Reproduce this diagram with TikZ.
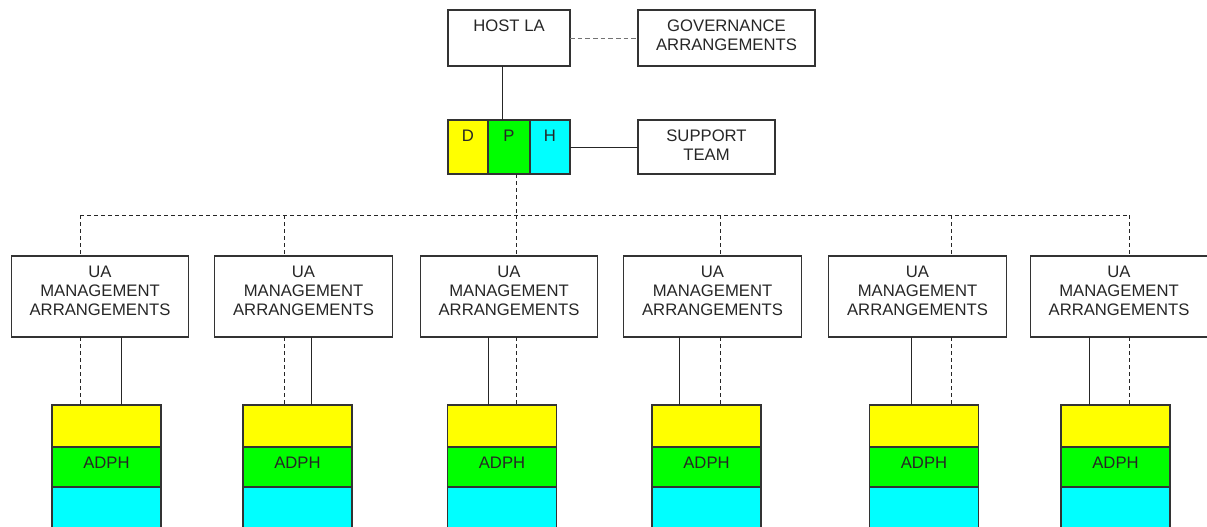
\documentclass[tikz,border=0pt]{standalone}
\usepackage{fontspec}
\setmainfont{Liberation Sans}
\usetikzlibrary{positioning}
\definecolor{dphyellow}{HTML}{FFFF00}
\definecolor{dphgreen}{HTML}{00FF00}
\definecolor{dphcyan}{HTML}{00FFFF}

\begin{document}
\begin{tikzpicture}[
    x=0.75pt, y=-0.75pt,
    box/.style={rectangle, draw=black!80, line width=0.9pt, inner sep=0pt, outer sep=0pt},
    txt/.style={anchor=north, inner sep=7.5pt, align=center, font=\fontsize{12.5}{14.25}\selectfont, text=black!85},
    caption/.style={label={[txt]north:{#1}}},
    ua/.style={box, minimum width=133pt, minimum height=60.75pt, caption={UA\\MANAGEMENT\\ARRANGEMENTS}},
    ylayer/.style={box, fill=dphyellow, minimum width=81.75pt, minimum height=31.5pt},
    glayer/.style={box, fill=dphgreen, minimum width=81.75pt, minimum height=30pt, caption=ADPH},
    clayer/.style={box, fill=dphcyan, minimum width=81.75pt, minimum height=33.75pt},
    link/.style={draw=black!85, line width=0.75pt},
    dlink/.style={link, dash pattern=on 3pt off 2.25pt},
    glink/.style={draw=black!55, line width=0.75pt, dash pattern=on 3.5pt off 2.25pt}
]
    \useasboundingbox (0,0) rectangle (1207,526);
    \clip (0,0) rectangle (1207,526);

    \node[box, minimum width=91.5pt, minimum height=42pt, caption={HOST LA}] (host) at (509,38) {};
    \node[box, minimum width=132.75pt, minimum height=42pt, caption={GOVERNANCE\\ARRANGEMENTS}] (gov) at (726.5,38) {};

    \node[box, fill=dphyellow, minimum width=30pt, minimum height=40.5pt, caption=D] (dphD) at (468,147) {};
    \node[box, fill=dphgreen, minimum width=31.5pt, minimum height=40.5pt, caption=P] (dphP) at (509,147) {};
    \node[box, fill=dphcyan, minimum width=30pt, minimum height=40.5pt, caption=H] (dphH) at (550,147) {};
    \node[box, minimum width=102.75pt, minimum height=40.5pt, caption={SUPPORT\\TEAM}] (sup) at (706.5,147) {};

    \node[ua] (ua1) at (100,296.5) {};
    \node[ua] (ua2) at (303.5,296.5) {};
    \node[ua] (ua3) at (509,296.5) {};
    \node[ua] (ua4) at (712.5,296.5) {};
    \node[ua] (ua5) at (917.5,296.5) {};
    \node[ua] (ua6) at (1119,296.5) {};

    \node[ylayer] (yel1) at (106.5,426) {};
    \node[ylayer] (yel2) at (297.5,426) {};
    \node[ylayer] (yel3) at (502,426) {};
    \node[ylayer] (yel4) at (706.5,426) {};
    \node[ylayer] (yel5) at (924,426) {};
    \node[ylayer] (yel6) at (1115.5,426) {};

    \node[glayer, below=0pt of yel1] (grn1) {};
    \node[glayer, below=0pt of yel2] (grn2) {};
    \node[glayer, below=0pt of yel3] (grn3) {};
    \node[glayer, below=0pt of yel4] (grn4) {};
    \node[glayer, below=0pt of yel5] (grn5) {};
    \node[glayer, below=0pt of yel6] (grn6) {};

    \node[clayer, below=0pt of grn1] (cyn1) {};
    \node[clayer, below=0pt of grn2] (cyn2) {};
    \node[clayer, below=0pt of grn3] (cyn3) {};
    \node[clayer, below=0pt of grn4] (cyn4) {};
    \node[clayer, below=0pt of grn5] (cyn5) {};
    \node[clayer, below=0pt of grn6] (cyn6) {};

    % drop points on the dashed bus
    \coordinate (d1) at (80,215);
    \coordinate (d2) at (284.5,215);
    \coordinate (d3) at (516,215);
    \coordinate (d4) at (720,215);
    \coordinate (d5) at (951,215);
    \coordinate (d6) at (1129,215);

    % solid feeds into the ADPH stacks
    \coordinate (s1) at (121,405);
    \coordinate (s2) at (311,405);
    \coordinate (s3) at (488.5,405);
    \coordinate (s4) at (679,405);
    \coordinate (s5) at (911,405);
    \coordinate (s6) at (1089,405);

    \draw[glink] (host) -- (gov);
    \draw[link] ([xshift=-5.25pt]host.south) -- ([xshift=-5.25pt]dphP.north);
    \draw[link] (dphH) -- (sup);
    \draw[dlink] (dphP.south -| d3) -- (d3);
    \draw[dlink] (d1) -- (d6);

    \draw[dlink] (d1) -- (ua1.north -| d1);
    \draw[dlink] (d2) -- (ua2.north -| d2);
    \draw[dlink] (d3) -- (ua3.north -| d3);
    \draw[dlink] (d4) -- (ua4.north -| d4);
    \draw[dlink] (d5) -- (ua5.north -| d5);
    \draw[dlink] (d6) -- (ua6.north -| d6);

    \draw[dlink] (ua1.south -| d1) -- (yel1.north -| d1);
    \draw[dlink] (ua2.south -| d2) -- (yel2.north -| d2);
    \draw[dlink] (ua3.south -| d3) -- (yel3.north -| d3);
    \draw[dlink] (ua4.south -| d4) -- (yel4.north -| d4);
    \draw[dlink] (ua5.south -| d5) -- (yel5.north -| d5);
    \draw[dlink] (ua6.south -| d6) -- (yel6.north -| d6);

    \draw[link] (ua1.south -| s1) -- (s1);
    \draw[link] (ua2.south -| s2) -- (s2);
    \draw[link] (ua3.south -| s3) -- (s3);
    \draw[link] (ua4.south -| s4) -- (s4);
    \draw[link] (ua5.south -| s5) -- (s5);
    \draw[link] (ua6.south -| s6) -- (s6);
\end{tikzpicture}
\end{document}
